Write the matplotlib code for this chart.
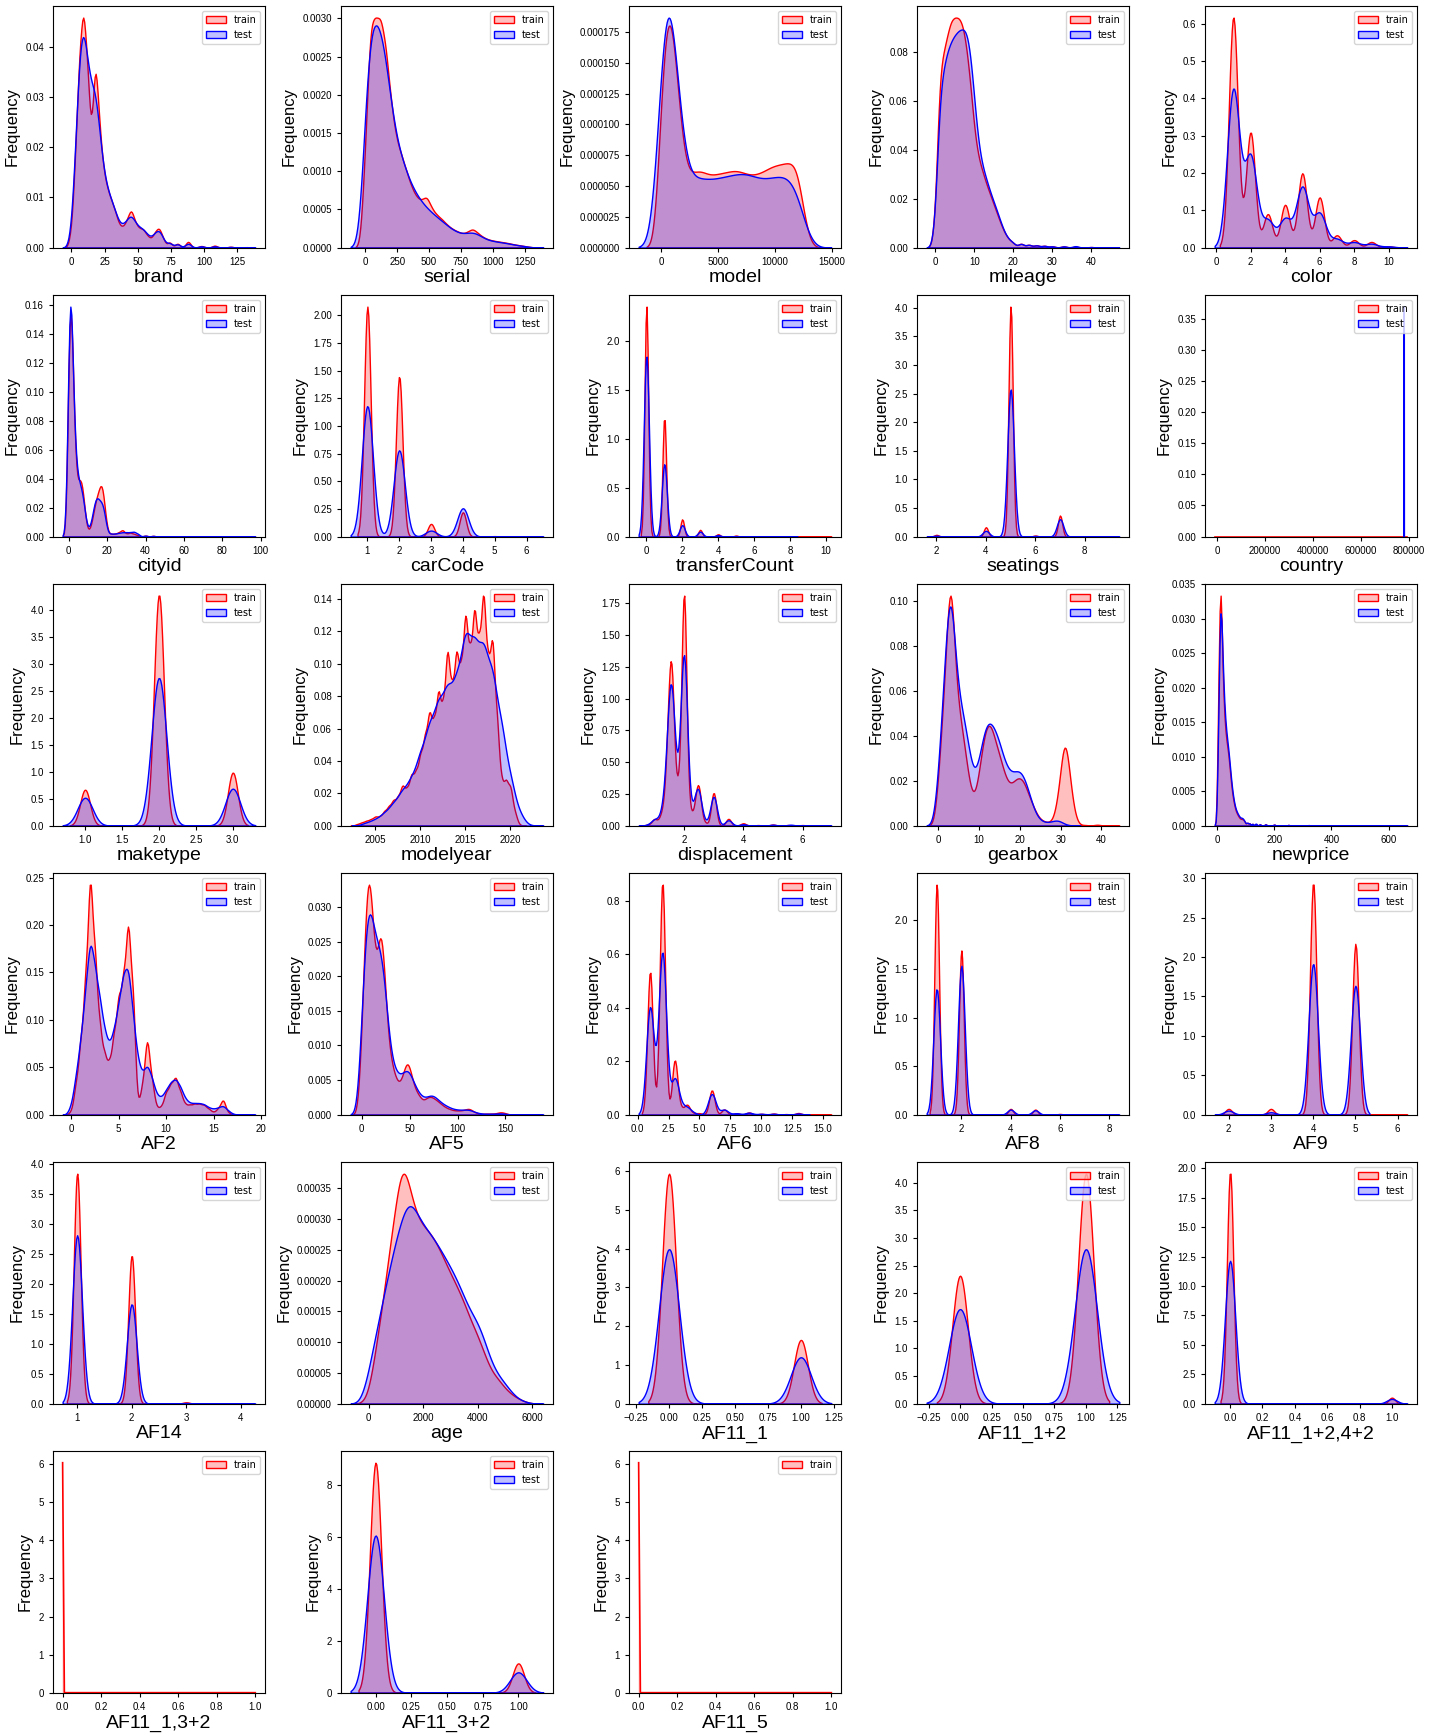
import numpy as np
import matplotlib
matplotlib.use('Agg')
import matplotlib.pyplot as plt
from matplotlib.patches import Patch
import seaborn as sns

plt.rcParams['font.family'] = ['Liberation Sans', 'DejaVu Sans']

# ---- sample points (x) and weights, train / test ----
brand_x = [0, 3, 6, 9, 12, 15, 18, 21, 24, 27, 30, 33, 36, 39, 42, 45, 48, 51, 54, 57, 60, 63, 66, 69,
           74, 80, 88, 98, 108, 120, 132]
brand_train = [3, 17, 35, 44, 33, 18, 36, 22, 14, 10.5, 8.5, 6.5, 4, 3.6, 5, 7.2, 4.5, 3.4, 3.4, 2.2,
               1.5, 2.8, 3.8, 1.8, 1.3, 1.0, 1.5, 0.4, 0.5, 0.2, 0.1]
brand_test = [3.5, 18, 35, 40, 33, 28.5, 28, 21, 14, 10.5, 8.5, 6.5, 4.3, 4, 5, 6, 4.5, 3.6, 3.4, 2.4,
              1.7, 2.7, 3.4, 1.8, 1.3, 1.0, 1.2, 0.4, 0.4, 0.2, 0.1]

serial_x = np.arange(0, 1281, 40)
serial_train = [12, 28.5, 28, 28.5, 25, 18, 13.5, 11.5, 9.5, 7.5, 6.2, 5.7, 6.5, 4.8, 4.0, 3.5, 2.8, 2.3,
                2.0, 1.7, 1.9, 2.4, 1.8, 1.3, 1.0, 0.85, 0.75, 0.65, 0.55, 0.4, 0.3, 0.2, 0.1]
serial_test = [20, 30, 30, 29, 25, 19, 14.5, 12, 10, 8.2, 7, 6, 5.2, 4.6, 4.0, 3.5, 2.9, 2.4, 2.0, 1.8,
               1.9, 2.1, 1.8, 1.3, 1.0, 0.85, 0.75, 0.65, 0.55, 0.4, 0.3, 0.2, 0.1]

model_x = np.arange(0, 13001, 500)
model_train = [125, 205, 195, 130, 75, 60, 63, 64, 61, 60, 61, 62, 63, 64, 63, 61, 60, 61, 63, 66, 68,
               69, 70, 71, 66, 30, 5]
model_test = [165, 255, 205, 115, 65, 52, 55, 54, 53, 53, 54, 55, 56, 57, 58, 58, 56, 54, 53, 54, 55,
              56, 56, 53, 45, 22, 4]

mileage_x = [0, 1, 2, 3, 4, 5, 6, 7, 8, 9, 10, 11, 12, 13, 14, 15, 16, 17, 18, 19, 20,
             22, 24, 26, 28, 30, 33, 36, 40, 45]
mileage_train = [15, 82, 90, 98, 106, 107, 107, 104, 93, 76, 54, 42, 36, 30, 25, 20, 15, 10, 6, 3.5, 2.5,
                 3, 2.2, 1.8, 1.4, 1.0, 0.9, 0.6, 0.4, 0.2]
mileage_test = [14, 70, 82, 90, 95, 98, 100, 101, 100, 90, 68, 48, 38, 32, 26, 21, 16, 10.5, 6, 3.5, 2.5,
                3, 2.2, 1.8, 1.4, 1.0, 1.0, 1.2, 0.4, 0.2]

color_x = [1, 2, 3, 4, 5, 6, 7, 8, 9, 10]
color_train = [0.62, 0.31, 0.09, 0.115, 0.2, 0.135, 0.033, 0.02, 0.015, 0.003]
color_test = [0.42, 0.24, 0.07, 0.075, 0.16, 0.09, 0.022, 0.014, 0.01, 0.003]

cityid_x = [0, 1, 2, 3, 4, 5, 6, 7, 8, 9, 10, 11, 12, 13, 14, 15, 16, 17, 18, 19, 20,
            22, 24, 26, 28, 30, 32, 34, 36, 40, 44, 50, 60, 70, 80, 94]
cityid_train = [0.16, 0.21, 0.13, 0.07, 0.04, 0.035, 0.045, 0.04, 0.025, 0.008, 0.003, 0.004, 0.01,
                0.018, 0.026, 0.03, 0.034, 0.042, 0.034, 0.016, 0.005,
                0.004, 0.004, 0.006, 0.01, 0.004, 0.006, 0.004, 0.002, 0.0016, 0.0012, 0.0005,
                0.0002, 0.0002, 0.0002, 0.0002]
cityid_test = [0.16, 0.23, 0.11, 0.07, 0.045, 0.04, 0.035, 0.033, 0.022, 0.01, 0.004, 0.005, 0.012,
               0.02, 0.028, 0.028, 0.024, 0.024, 0.024, 0.012, 0.004,
               0.004, 0.004, 0.005, 0.006, 0.006, 0.006, 0.007, 0.004, 0.0016, 0.0012, 0.0005,
               0.0002, 0.0002, 0.0002, 0.0002]

carcode_x = [1, 2, 3, 4, 5, 6]
carcode_train = [2.08, 1.45, 0.115, 0.22, 0.004, 0.002]
carcode_test = [1.18, 0.78, 0.054, 0.256, 0.003, 0.002]

transfer_train_x = [0, 1, 2, 3, 4, 5, 6, 7, 8, 9, 10]
transfer_train = [2.37, 1.23, 0.178, 0.069, 0.024, 0.01, 0.003, 0.002, 0.001, 0.001, 0.001]
transfer_test_x = [0, 1, 2, 3, 4, 5, 6, 7, 8]
transfer_test = [1.85, 0.74, 0.117, 0.05, 0.015, 0.005, 0.002, 0.001, 0.001]

seatings_x = [2, 4, 5, 6, 7, 9]
seatings_train = [0.03, 0.164, 4.05, 0.018, 0.37, 0.003]
seatings_test = [0.015, 0.1, 2.58, 0.01, 0.305, 0.002]

country_train_x = [-9500, 792500]
country_train_y = [0.0, 0.0]
country_test_x = [779000, 779412, 779824]
country_test_y = [0.0, 0.37, 0.0]

maketype_x = [1, 2, 3]
maketype_train = [0.666, 4.28, 0.983]
maketype_test = [0.516, 2.737, 0.684]

modelyear_train_x = np.arange(2003, 2021.01, 0.5)
modelyear_train = [0.73, 1.46, 2.19, 2.85, 4.15, 4.04, 6.57, 8.69, 11.45, 12.67,
                   18.4, 16.1, 23.2, 23.9, 32, 39.9, 51.7, 45.9, 61.7, 52,
                   81.7, 59.8, 79.6, 68.8, 97.6, 75.4, 99.5, 79.8, 108.2, 71.5,
                   86.8, 47.8, 19.2, 20.6, 18, 5.8, 0.3]
modelyear_test_x = np.arange(2004, 2023)
modelyear_test = [2, 4, 8, 14, 22, 29, 45, 63, 77, 86, 89, 121, 113, 112, 96, 63, 30, 8, 0.3]

disp_train_x = [0.8, 1.0, 1.2, 1.3, 1.4, 1.5, 1.6, 1.8, 2.0, 2.2, 2.4, 2.5, 2.7, 3.0, 3.5, 4.0, 4.5,
                5.0, 5.5, 6.0]
disp_train = [0.002, 0.012, 0.01, 0.015, 0.04, 0.155, 0.21, 0.06, 0.44, 0.022, 0.03, 0.06, 0.005, 0.063,
              0.013, 0.0045, 0.001, 0.002, 0.001, 0.001]
disp_test_x = [0.8, 1.0, 1.2, 1.3, 1.4, 1.5, 1.6, 1.8, 2.0, 2.2, 2.4, 2.5, 2.7, 3.0, 3.5, 4.0, 5.0,
               5.6, 6.64]
disp_test = [0.002, 0.012, 0.01, 0.015, 0.04, 0.13, 0.20, 0.06, 0.37, 0.02, 0.035, 0.055, 0.005, 0.065,
             0.012, 0.003, 0.002, 0.002, 0.0005]

gearbox_train_x = list(range(35)) + [36, 39, 42]
gearbox_train = [22, 55, 85, 145, 80, 57, 46, 30, 16, 13, 26, 42, 51, 50, 41, 35, 27, 21, 20, 23,
                 24, 22, 16, 11, 6, 3, 2, 1.5, 2, 9, 26, 50, 30, 10, 1.5, 0.5, 0.8, 0.3]
gearbox_test_x = list(range(33))
gearbox_test = [25, 55, 90, 130, 78, 60, 52, 43, 28, 21, 30, 42, 49, 48, 44, 39, 31, 26, 24, 25,
                26, 23, 17, 10, 4.5, 2.5, 1.5, 1.5, 2, 2.8, 2.2, 0.5, 0.2]

newprice_x = [2, 6, 10, 14, 18, 22, 26, 30, 34, 38, 42, 46, 50, 54, 58, 62, 66, 70, 74, 78, 82, 86,
              90, 94, 98, 106, 114, 124, 136, 150, 170, 200, 250, 320, 400, 500, 600, 655]
newprice_train = [100, 230, 350, 370, 270, 205, 165, 140, 125, 115, 100, 80, 62, 47, 37, 28, 22, 18, 15,
                  12, 10, 10, 10, 8, 6, 8, 6, 5, 4.5, 3.75, 3.75, 3, 1.9, 1.4, 1, 0.75, 0.5, 0.1]
newprice_test = [70, 170, 290, 330, 265, 210, 170, 145, 128, 115, 100, 82, 64, 49, 38, 29, 23, 19, 16,
                 13, 11, 11, 11, 8, 6, 8, 6, 5, 6, 3.75, 3.75, 3, 1.9, 1.4, 1, 0.75, 0.5, 0.1]

af2_x = list(np.arange(0, 17.01, 0.5)) + [18.5]
af2_train = [2.6, 26.8, 63, 114.5, 210, 136.8, 74.9, 51.2, 43, 67.9,
             100.6, 114.8, 168, 107, 6, 25.2, 68.9, 29.4, 5.7, 6.7,
             19.7, 26, 32.6, 19.6, 8.7, 8.4, 9.3, 9.3, 8.4, 5,
             2, 5.4, 13.9, 1.8, 0.3, 0.05]
af2_test = [10, 45, 85, 140, 205, 165, 132, 95, 77, 95,
            125, 160, 170, 113, 62, 45, 58, 42, 22, 19,
            28, 37, 41, 32, 18, 13, 13, 13, 12, 8,
            6.5, 8, 10.8, 5, 1, 0.05]

af5_x = list(range(0, 125, 4)) + [130, 136, 142, 146, 150, 160, 170, 178]
af5_train = [110, 300, 380, 260, 200, 300, 200, 100, 70, 50, 42, 62, 85, 55, 35, 28, 18, 25, 27, 23,
             19, 14, 10, 8, 6, 6, 6, 7, 10, 5, 2, 1.5, 2.2, 2.2, 3, 4, 2, 0.8, 0.5, 0.3]
af5_test = [140, 280, 320, 270, 245, 240, 200, 110, 75, 60, 55, 60, 70, 55, 40, 30, 24, 24, 30, 27,
            21, 16, 13, 10, 8, 7, 7, 7, 8, 5, 2.5, 2, 2, 2, 2, 2, 1.5, 0.6, 0.4, 0.2]

af6_train_x = [1, 2, 3, 3.5, 4, 4.5, 5, 6, 7, 8, 9, 10, 11, 12, 13, 14, 15]
af6_train = [0.53, 0.86, 0.2, 0.02, 0.035, 0.005, 0.005, 0.09, 0.019, 0.005, 0.008, 0.003, 0.004,
             0.002, 0.006, 0.001, 0.0005]
af6_test_x = [1, 2, 3, 3.5, 4, 4.5, 6, 7, 8, 9, 10, 11, 13]
af6_test = [0.39, 0.59, 0.125, 0.02, 0.022, 0.005, 0.075, 0.018, 0.005, 0.007, 0.003, 0.003, 0.004]

af8_train_x = [1, 2, 4, 5, 6]
af8_train = [2.372, 1.69, 0.059, 0.052, 0.007]
af8_test_x = [1, 2, 4, 5, 6, 8]
af8_test = [1.297, 1.534, 0.052, 0.045, 0.003, 0.001]

af9_train_x = [2, 3, 4, 5, 6]
af9_train = [0.073, 0.073, 2.95, 2.17, 0.005]
af9_test_x = [2, 3, 4, 5]
af9_test = [0.051, 0.03, 1.91, 1.633]

af14_train_x = [1, 2, 3]
af14_train = [3.84, 2.47, 0.022]
af14_test_x = [1, 2, 3, 4]
af14_test = [2.81, 1.66, 0.01, 0.001]

age_x = np.arange(0, 5751, 250)
age_train = [10, 90, 160, 250, 330, 420, 355, 310, 293, 283, 265, 240, 215, 193, 168, 136, 114, 82,
             52, 42, 25, 15, 8, 3]
age_test = [55, 115, 170, 225, 275, 320, 350, 322, 300, 287, 270, 250, 230, 208, 180, 152, 140, 108,
            67, 48, 35, 18, 7, 3]

binary_x = [0, 1]
af11_1_train = [5.94, 1.647]
af11_1_test = [3.99, 1.198]
af11_12_train = [2.32, 4.17]
af11_12_test = [1.714, 2.80]
af11_1242_train = [19.7, 0.51]
af11_1242_test = [12.15, 0.4]
af11_32_train = [8.87, 1.13]
af11_32_test = [6.06, 0.785]

af11_132_x = [0.0, 0.009, 1.0]
af11_132_y = [6.04, 0.0, 0.0]
af11_5_x = [0.0, 0.009, 1.0]
af11_5_y = [6.04, 0.0, 0.0]

# kernel bandwidth (data units) for train / test curves
bandwidth = {
    'brand': (1.8, 2.2), 'serial': (25, 38), 'model': (420, 650), 'mileage': (0.7, 0.75),
    'color': (0.26, 0.36), 'cityid': (1.0, 1.05), 'carCode': (0.1031, 0.1753),
    'transferCount': (0.1026, 0.1434), 'seatings': (0.0861, 0.1325), 'maketype': (0.0673, 0.1013),
    'modelyear': (0.25, 0.55), 'displacement': (0.085, 0.11), 'gearbox': (0.8, 0.95),
    'newprice': (3.0, 3.2), 'AF2': (0.25, 0.3), 'AF5': (3.0, 3.8), 'AF6': (0.22, 0.307),
    'AF8': (0.0954, 0.136), 'AF9': (0.0757, 0.11), 'AF14': (0.063, 0.089), 'age': (200, 220),
    'AF11_1': (0.0526, 0.0769), 'AF11_1+2': (0.0615, 0.0884), 'AF11_1+2,4+2': (0.0197, 0.0318),
    'AF11_3+2': (0.0399, 0.0583),
}

kde_panels = {
    'brand': (brand_x, brand_train, brand_x, brand_test),
    'serial': (serial_x, serial_train, serial_x, serial_test),
    'model': (model_x, model_train, model_x, model_test),
    'mileage': (mileage_x, mileage_train, mileage_x, mileage_test),
    'color': (color_x, color_train, color_x, color_test),
    'cityid': (cityid_x, cityid_train, cityid_x, cityid_test),
    'carCode': (carcode_x, carcode_train, carcode_x, carcode_test),
    'transferCount': (transfer_train_x, transfer_train, transfer_test_x, transfer_test),
    'seatings': (seatings_x, seatings_train, seatings_x, seatings_test),
    'maketype': (maketype_x, maketype_train, maketype_x, maketype_test),
    'modelyear': (modelyear_train_x, modelyear_train, modelyear_test_x, modelyear_test),
    'displacement': (disp_train_x, disp_train, disp_test_x, disp_test),
    'gearbox': (gearbox_train_x, gearbox_train, gearbox_test_x, gearbox_test),
    'newprice': (newprice_x, newprice_train, newprice_x, newprice_test),
    'AF2': (af2_x, af2_train, af2_x, af2_test),
    'AF5': (af5_x, af5_train, af5_x, af5_test),
    'AF6': (af6_train_x, af6_train, af6_test_x, af6_test),
    'AF8': (af8_train_x, af8_train, af8_test_x, af8_test),
    'AF9': (af9_train_x, af9_train, af9_test_x, af9_test),
    'AF14': (af14_train_x, af14_train, af14_test_x, af14_test),
    'age': (age_x, age_train, age_x, age_test),
    'AF11_1': (binary_x, af11_1_train, binary_x, af11_1_test),
    'AF11_1+2': (binary_x, af11_12_train, binary_x, af11_12_test),
    'AF11_1+2,4+2': (binary_x, af11_1242_train, binary_x, af11_1242_test),
    'AF11_3+2': (binary_x, af11_32_train, binary_x, af11_32_test),
}

feature_names = ['brand', 'serial', 'model', 'mileage', 'color',
                 'cityid', 'carCode', 'transferCount', 'seatings', 'country',
                 'maketype', 'modelyear', 'displacement', 'gearbox', 'newprice',
                 'AF2', 'AF5', 'AF6', 'AF8', 'AF9',
                 'AF14', 'age', 'AF11_1', 'AF11_1+2', 'AF11_1+2,4+2',
                 'AF11_1,3+2', 'AF11_3+2', 'AF11_5']


def draw_kde(ax, x, w, h, color, label):
    x = np.asarray(x, dtype=float)
    w = np.asarray(w, dtype=float)
    std_w = np.sqrt(np.cov(x, aweights=w))
    std_u = np.std(x, ddof=1)
    # seaborn sizes the grid from the unweighted spread, so scale cut to keep 3 bandwidths
    sns.kdeplot(x=x, weights=w, bw_method=h / std_w, cut=3 * std_w / std_u, fill=True,
                color=color, alpha=0.25, linewidth=1.0, ax=ax, label=label)


def draw_line(ax, x, y, color):
    coll = ax.fill_between(x, 0, y, facecolor=color, alpha=0.25, linewidth=0)
    coll.sticky_edges.y[:] = [0]
    ax.plot(x, y, color=color, linewidth=1.2)


train_patch = Patch(facecolor=(1, 0, 0, 0.25), edgecolor='r', label='train')
test_patch = Patch(facecolor=(0, 0, 1, 0.25), edgecolor='b', label='test')

fig, axes = plt.subplots(6, 5, figsize=(14.32, 17.35), dpi=100)
fig.subplots_adjust(left=0.037, right=0.9895, bottom=0.0244, top=0.9965, wspace=0.359, hspace=0.197)
axes[5, 3].remove()
axes[5, 4].remove()

for ax, name in zip(axes.flat, feature_names):
    if name in kde_panels:
        tx, tw, sx, sw = kde_panels[name]
        h_train, h_test = bandwidth[name]
        draw_kde(ax, tx, tw, h_train, 'r', 'train')
        draw_kde(ax, sx, sw, h_test, 'b', 'test')
        handles = [train_patch, test_patch]
    elif name == 'country':
        draw_line(ax, country_train_x, country_train_y, 'r')
        draw_line(ax, country_test_x, country_test_y, 'b')
        handles = [train_patch, test_patch]
    elif name == 'AF11_1,3+2':
        draw_line(ax, af11_132_x, af11_132_y, 'r')
        handles = [train_patch]
    else:
        draw_line(ax, af11_5_x, af11_5_y, 'r')
        handles = [train_patch]

    ax.set_xlabel(name, fontsize=14, labelpad=2)
    ax.set_ylabel('Frequency', fontsize=12)
    ax.tick_params(labelsize=7, length=3, width=0.8)
    ax.legend(handles=handles, loc='upper right', prop={'family': 'DejaVu Sans', 'size': 7})

fig.savefig('out.png', dpi=100)
